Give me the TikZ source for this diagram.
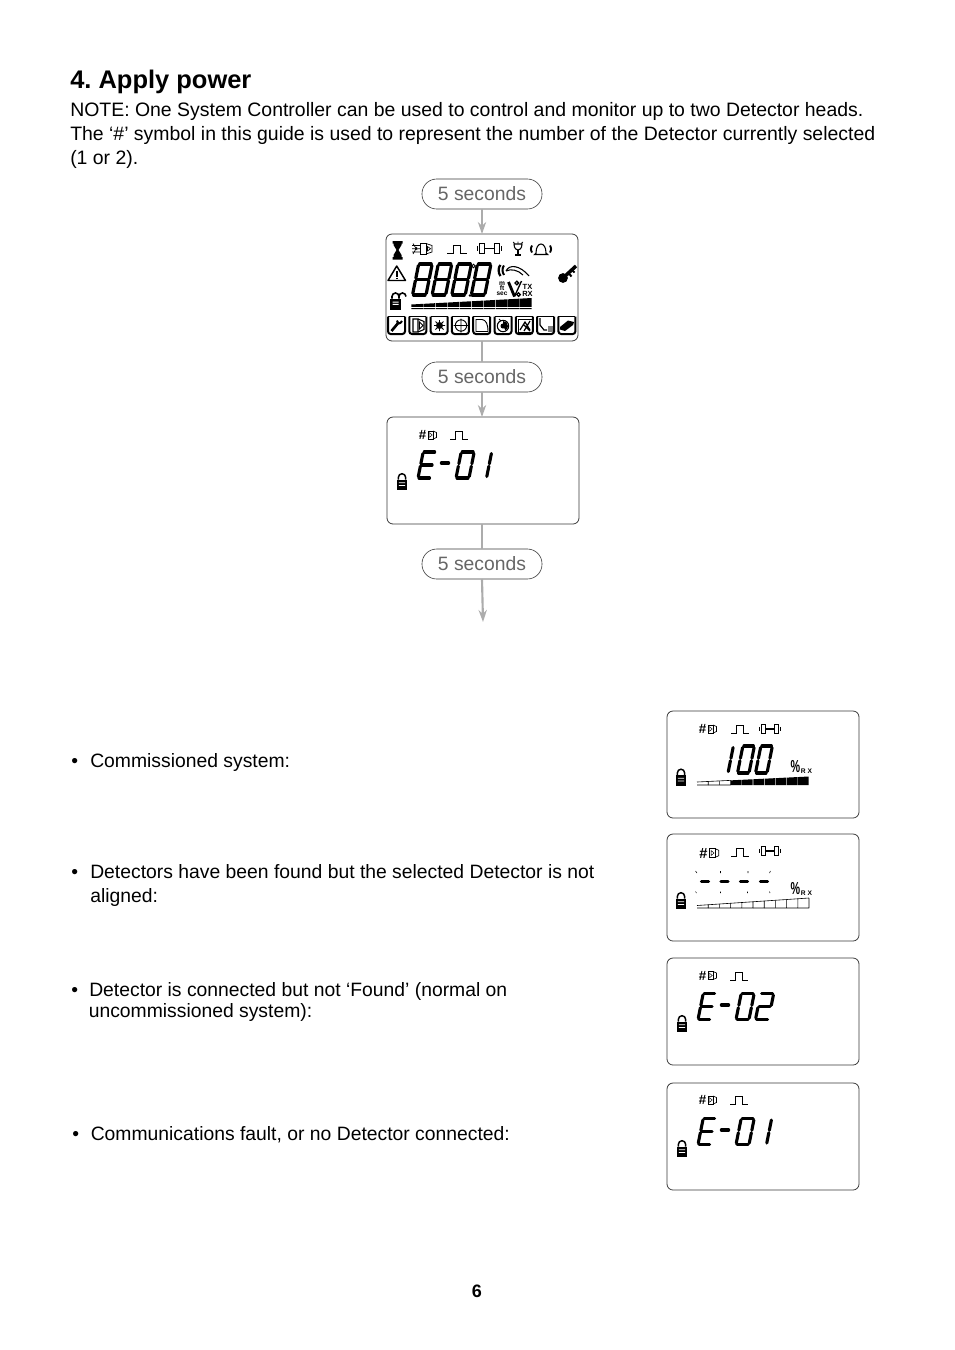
\documentclass[tikz,border=0pt]{standalone}
\usepackage{fontspec}
\setmainfont{Liberation Sans}
\usetikzlibrary{arrows.meta}
\definecolor{conn}{HTML}{ACACAC}
\definecolor{pilltext}{HTML}{666666}
\definecolor{lcdedge}{HTML}{3A3A3A}
\tikzset{
  body/.style={anchor=base west,inner sep=0pt,font=\frenchspacing\fontsize{14.58}{18}\selectfont},
  bodyb/.style={anchor=base west,inner sep=0pt,font=\frenchspacing\fontsize{14.5}{18}\selectfont},
  heading/.style={anchor=base west,inner sep=0pt,font=\frenchspacing\bfseries\fontsize{19.1}{22}\selectfont},
  pill/.style={draw=lcdedge,line width=0.45pt,rounded corners=11pt,minimum width=90pt,minimum height=22.5pt,inner sep=0pt,outer sep=0pt,text=pilltext,font=\fontsize{14.5}{18}\selectfont},
  lcd/.style={draw=lcdedge,line width=0.6pt,rounded corners=4.5pt,minimum width=144pt,minimum height=80.25pt,inner sep=0pt,outer sep=0pt,anchor=north west},
  conn/.style={draw=conn,line width=1.6pt},
  connarrow/.style={conn,-{Stealth[length=9pt,width=6.2pt]}},
  ic/.style={line width=0.5pt,draw=black},
  tiny/.style={inner sep=0pt,font=\bfseries\fontsize{#1}{#1}\selectfont},
  dashseg/.style={line width=2.6pt,line cap=round},
}
% seven segment digit
\newcommand\sega{\draw (1,-\dh) -- (\dw-1,-\dh);}
\newcommand\segb{\draw (\dw,-\dh+1.5) -- (\dw,-\dh/2-1.2);}
\newcommand\segc{\draw (\dw,-\dh/2+1.2) -- (\dw,-1.5);}
\newcommand\segd{\draw (1,0) -- (\dw-1,0);}
\newcommand\sege{\draw (0,-\dh/2+1.2) -- (0,-1.5);}
\newcommand\segf{\draw (0,-\dh+1.5) -- (0,-\dh/2-1.2);}
\newcommand\segg{\draw (1,-\dh/2) -- (\dw-1,-\dh/2);}
\newcommand\lcddigit[6]{%
  \begin{scope}[shift={(#1,#2)},xslant=0.2,line width=#5pt,line cap=round]
    \def\dw{#3}\def\dh{#4}
    \foreach \s in {#6}{\csname seg\s\endcsname}
  \end{scope}}
\newcommand\pulseic[2]{% left, baseline
  \draw[line width=0.65pt] (#1,#2) -- (#1+5.5,#2) -- (#1+5.5,#2-8) -- (#1+12,#2-8) -- (#1+12,#2) -- (#1+17.5,#2);}
\newcommand\barbellic[3]{% left, centre, scale
  \begin{scope}[shift={(#1,#2)},xscale=#3]
    \draw[ic,line width=0.75pt] (2.5,-4.7) rectangle (6.5,4.7);
    \draw[ic,line width=0.75pt] (15.5,-4.7) rectangle (19.5,4.7);
    \draw[line width=0.9pt] (6.5,0) -- (15.5,0);
    \draw[line width=1pt] (0.7,-2.2) -- (0.7,2.2) (21.3,-2.2) -- (21.3,2.2);
  \end{scope}}
\newcommand\detnum[3]{% left, centre, scale
  \begin{scope}[shift={(#1,#2)},scale=#3]
    \node[tiny=10,transform shape] (hash) at (3.7,0) {\#};
    \draw[ic] (9,-4) rectangle (14,4);
    \draw[ic] (14,-4) -- (17.5,-2.5) -- (17.5,2.5) -- (14,4);
    \draw[line width=0.35pt] (10.5,-2.3) -- (13.2,0) -- (10.5,2.3) -- cycle;
  \end{scope}}
\newcommand\lockic[2]{% centre x, top of body
  \begin{scope}[shift={(#1,#2)}]
    \draw[line width=1.1pt] (-3.6,0) -- (-3.6,-2.2) arc[start angle=180,end angle=0,x radius=3.6,y radius=-3.6] -- (3.6,0);
    \fill (-5,0) rectangle (5,10.5);
    \fill[white] (-3.2,2.8) rectangle (3.2,3.7) (-3.2,5.5) rectangle (3.2,6.4);
  \end{scope}}
\newcommand\bargraph[6]{% x0, ybottom, width, hleft, hright, hollow segments
  \foreach \i in {0,...,9}{
    \pgfmathsetmacro\xa{#1+#3*\i/10}
    \pgfmathsetmacro\xb{#1+#3*(\i+1)/10}
    \pgfmathsetmacro\ya{#2-(#4+(#5-#4)*\i/10)}
    \pgfmathsetmacro\yb{#2-(#4+(#5-#4)*(\i+1)/10)}
    \ifnum\i<#6\relax
      \draw[line width=0.45pt] (\xa,\ya) -- (\xb,\yb) (\xb,\yb) -- (\xb,#2) (\xa,#2) -- (\xb,#2);
    \else
      \fill (\xa+0.3,\ya) -- (\xb-0.3,\yb) -- (\xb-0.3,#2) -- (\xa+0.3,#2) -- cycle;
    \fi}}
\newcommand\percic[2]{% centre of % glyph, centre of RX
  \node[tiny=13,xscale=0.62] (perc) at (#1,#2) {\%};
  \node[tiny=5] (rx) at (#1+11,#2+4) {R X};}
\newcommand\btnframe[1]{%
  \draw[line width=1.5pt,rounded corners=2pt] (#1-8.5,316.5) -- (#1-8.5,334) -- (#1+8.5,334) -- (#1+8.5,316.5);
  \draw[line width=0.7pt] (#1-8.5,316.5) -- (#1+8.5,316.5);}
\begin{document}
\begin{tikzpicture}[x=0.75pt,y=-0.75pt]
\useasboundingbox (0,0) rectangle (954,1350);
% text
\node[heading] (title) at (70,88.5) {4. Apply power};
\node[body] (n1) at (70,116) {NOTE: One System Controller can be used to control and monitor up to two Detector heads.};
\node[body] (n2) at (70,140) {The ‘\#’ symbol in this guide is used to represent the number of the Detector currently selected};
\node[body] (n3) at (70,164) {(1 or 2).};
\node[bodyb] (b1) at (71,767) {•};
\node[bodyb] (t1) at (90,767) {Commissioned system:};
\node[bodyb] (b2) at (71,878) {•};
\node[bodyb] (t2a) at (90,878) {Detectors have been found but the selected Detector is not};
\node[bodyb] (t2b) at (90,902) {aligned:};
\node[bodyb] (b3) at (71,996) {•};
\node[bodyb] (t3a) at (89,996) {Detector is connected but not ‘Found’ (normal on};
\node[bodyb] (t3b) at (88.5,1017) {uncommissioned system):};
\node[bodyb] (b4) at (72,1140) {•};
\node[bodyb] (t4) at (90.5,1140) {Communications fault, or no Detector connected:};
\node[inner sep=0pt,font=\bfseries\fontsize{13.5}{15}\selectfont] (pg) at (477,1291) {6};
% flow
\node[pill] (p1) at (482,194) {5 seconds};
\node[lcd] (d1) at (386,234) {};
\node[pill] (p2) at (482,377) {5 seconds};
\node[lcd] (d2) at (387,417) {};
\node[pill] (p3) at (482,564) {5 seconds};
\coordinate (endpt) at (483,622);
\draw[connarrow] (p1.south) -- (p1.south |- d1.north);
\draw[conn] (p2.south |- d1.south) -- (p2.north);
\draw[connarrow] (p2.south) -- (p2.south |- d2.north);
\draw[conn] (p3.south |- d2.south) -- (p3.north);
\draw[connarrow] (p3.south) -- (endpt);
% --- full display
\fill (392.5,241) rectangle (402.5,243.5) (392.5,257) rectangle (402.5,259.5);
\fill (393.5,243) -- (401.5,243) -- (401.5,245) -- (398.5,250) -- (401.5,255) -- (401.5,257) -- (393.5,257) -- (393.5,255) -- (396.5,250) -- (393.5,245) -- cycle;
\draw[ic] (420,243.5) -- (426,243.5) -- (426,254) -- (420,254) -- cycle;
\draw[ic] (426,243.5) -- (432,245.5) -- (432,252) -- (426,254) (427.5,246.5) -- (430.5,248.7) -- (427.5,251) -- cycle;
\draw[ic] (412,245.5) -- (420,245.5) (412,248.7) -- (420,248.7) (412,252) -- (420,252) (413,243.5) -- (417,250) (413,254) -- (417,247);
\begin{scope}[shift={(447,253)},xscale=1.14]\pulseic{0}{0}\end{scope}
\barbellic{477}{248.5}{1.14}
\begin{scope}[shift={(518,249)}]
  \draw[line width=0.8pt] (-4,-5) .. controls (-4,0) and (-1,1) .. (0,1) .. controls (1,1) and (4,0) .. (4,-5) -- cycle;
  \draw[line width=0.9pt] (0,1) -- (0,6) (-3,6) -- (3,6);
  \draw[line width=0.5pt] (-5,-7) -- (-3,-5.5) (5,-7) -- (3,-5.5) (0,-7.5) -- (0,-5.5);
\end{scope}
\begin{scope}[shift={(541,249)}]
  \draw[line width=0.8pt] (-6.5,5.5) -- (-5,4) .. controls (-5,-8) and (5,-8) .. (5,4) -- (6.5,5.5) -- cycle;
  \draw[line width=1.4pt] (-9,-3.5) .. controls (-10.5,0) .. (-9,3.5) (9,-3.5) .. controls (10.5,0) .. (9,3.5);
\end{scope}
\draw[line width=1.1pt,line join=round] (388,280.5) -- (405.5,280.5) -- (396.7,266) -- cycle;
\draw[line width=1.2pt] (396.7,271) -- (396.7,276.5) (396.7,277.5) -- (396.7,279);
\foreach \k in {0,1,2,3}{\lcddigit{412.5+19.6*\k}{295}{13.5}{31}{2.4}{a,b,c,d,e,f,g}}
\draw[line width=0.7pt] (473.5,266) circle (1.7);
\fill (470,295.5) circle (1.3);
\draw[line width=1.7pt] (500.5,265) .. controls (498,267) and (498,273) .. (500.5,276);
\draw[line width=1.5pt] (504,265.5) .. controls (502,268) and (502,272) .. (504,275);
\draw[line width=0.8pt] (506,271) .. controls (509,264) and (520,265) .. (529,276) (506,271) .. controls (511,268.5) and (518,270) .. (523,275);
\node[tiny=5] (mm) at (502,283.5) {m};
\node[tiny=5] (ft) at (502,288.5) {ft};
\node[tiny=4.9] (sec) at (502,293.5) {sec};
\draw[line width=2.1pt] (508.5,282) -- (514.5,296.5);
\draw[line width=1pt] (514.5,296.5) -- (521.5,281);
\draw[line width=1pt] (516.8,283) circle (1.8) (518.5,294.5) circle (1.8);
\node[tiny=5.6] (tx) at (527.5,286.8) {TX};
\node[tiny=5.6] (rxa) at (527.5,293.5) {RX};
\begin{scope}[shift={(563,278)}]
  \fill (0,0) circle (4.9);
  \draw[line width=2.6pt] (0,0) -- (13,-12);
  \draw[line width=1.5pt] (5.5,-5) -- (8.5,-1.5) (9,-8) -- (11.5,-5.5);
\end{scope}
% open lock
\begin{scope}[shift={(395.5,298.5)}]
  \fill (-5.5,0) rectangle (5.5,11);
  \fill[white] (-3,3) rectangle (3,4) (-3,5.3) rectangle (3,6.3);
  \draw[line width=1.2pt] (-3.5,0) -- (-3.5,-2) arc[start angle=180,end angle=0,x radius=3.5,y radius=-3.5] -- (3.5,-0) ;
  \draw[line width=1.2pt] (3.5,-2) arc[start angle=180,end angle=0,x radius=3.5,y radius=-3.5];
\end{scope}
\bargraph{411}{309}{121}{4.5}{11}{0}
\fill[white] (411,307) rectangle (532,307.5);
\foreach \i in {0,...,8}{
  \pgfmathsetmacro\cx{396.5+21.3*\i}
  \btnframe{\cx}}
% wrench
\draw[line width=2pt] (391.5,331) -- (399,322);
\draw[line width=1.5pt] (397,320.5) .. controls (397.5,324) and (400,324.5) .. (402,321);
% detector button
\draw[ic,line width=0.8pt] (413,319) -- (418,319) -- (418,332) -- (413,332) -- cycle (418,319) -- (424,321.5) -- (424,329.5) -- (418,332);
\draw[line width=0.7pt] (419.5,322) -- (423,325.5) -- (419.5,329) -- cycle;
% sun
\fill (439.5,325.5) circle (3.5);
\draw[line width=0.6pt] (434,325.5) -- (445,325.5) (439.5,320) -- (439.5,331) (435.5,321.5) -- (443.5,329.5) (435.5,329.5) -- (443.5,321.5);
% crosshair
\draw[line width=0.7pt] (461,325.5) circle (5.7) (453.5,325.5) -- (468.5,325.5) (461,318.5) -- (461,332.5);
% sheet
\draw[line width=0.7pt] (476,331.5) -- (476,319.5) -- (482,319.5) .. controls (486,320) and (488,324) .. (488,331.5) -- cycle;
% timer
\draw[line width=0.8pt] (503,326) circle (5.7);
\fill (503,326) -- (503,321) arc[start angle=90,end angle=-60,x radius=5,y radius=-5] -- cycle;
\fill (503,326) circle (2.5);
\draw[line width=0.7pt] (499,319) -- (501,321);
% picture
\draw[line width=0.6pt] (518,319) rectangle (532,332);
\draw[line width=0.9pt] (520,330) -- (525,322) -- (530,330) (524,325) -- (530,331) (530,321) -- (524,331);
% squiggle
\draw[line width=0.9pt] (540,318) -- (540,325) -- (544,330) -- (547,330);
\fill[gray] (548,325.5) rectangle (553,332);
% pad
\fill (560,327) -- (568,320.5) -- (574,322) -- (573,325) -- (565,331) -- (560,329.5) -- cycle;
% --- E-01 display 1
\detnum{419}{435}{1}
\pulseic{450}{439.5}
\lockic{402}{479.5}
\lcddigit{418}{478}{12.5}{26}{2.3}{a,d,e,f,g}
\draw[dashseg] (441.5,463) -- (448.5,463);
\lcddigit{456}{478}{13}{26}{2.3}{a,b,c,d,e,f}
\lcddigit{473}{478}{13.5}{26}{2.3}{b,c}
% --- commissioned
\node[lcd] (d3) at (667,711) {};
\begin{scope}[name prefix=s3-]
\detnum{699}{729}{1}
\pulseic{731}{733}
\barbellic{759}{729}{1}
\lockic{681}{775}
\lcddigit{715}{773}{13}{27}{2.3}{b,c}
\lcddigit{737.5}{773}{11.5}{27}{2.3}{a,b,c,d,e,f}
\lcddigit{755.5}{773}{11.5}{27}{2.3}{a,b,c,d,e,f}
\percic{795.5}{767}
\bargraph{697}{785}{112}{3}{8.5}{3}
\end{scope}
% --- not aligned
\node[lcd] (d4) at (667,834) {};
\begin{scope}[name prefix=s4-]
\detnum{699.5}{853}{1.1}
\pulseic{731}{856}
\barbellic{759}{851}{1}
\lockic{681}{898.5}
\foreach \x in {701.5,721,740.5,760.5}{\draw[dashseg] (\x,881.5) -- (\x+7,881.5);}
\draw[line width=0.4pt] (695.5,871) -- (697,873) (720.5,871) -- (720.5,873) (748,871) -- (748,873) (770.5,871) -- (769.5,873);
\draw[line width=0.4pt] (696.5,893) -- (695.5,891.5) (720.5,893) -- (720.5,891.5) (747.5,893) -- (747.5,891.5) (770,893) -- (769.5,891.5);
\percic{795.5}{889}
\bargraph{697}{908}{112}{2.5}{10}{10}
\end{scope}
% --- E-02
\node[lcd] (d5) at (667,958) {};
\begin{scope}[name prefix=s5-]
\detnum{699}{975.5}{1}
\pulseic{730}{980}
\lockic{682}{1021.5}
\lcddigit{698}{1019.5}{12.5}{26}{2.3}{a,d,e,f,g}
\draw[dashseg] (721.5,1005) -- (728.5,1005);
\lcddigit{736}{1019.5}{13}{26}{2.3}{a,b,c,d,e,f}
\lcddigit{755.5}{1019.5}{13}{26}{2.3}{a,b,d,e,g}
\end{scope}
% --- E-01 second
\node[lcd] (d6) at (667,1083) {};
\begin{scope}[name prefix=s6-]
\detnum{699}{1100}{1}
\pulseic{730}{1104.5}
\lockic{682}{1146.5}
\lcddigit{698}{1144.5}{12.5}{26}{2.3}{a,d,e,f,g}
\draw[dashseg] (721.5,1130) -- (728.5,1130);
\lcddigit{736}{1144.5}{13}{26}{2.3}{a,b,c,d,e,f}
\lcddigit{753}{1144.5}{13.5}{26}{2.3}{b,c}
\end{scope}
\end{tikzpicture}
\end{document}
